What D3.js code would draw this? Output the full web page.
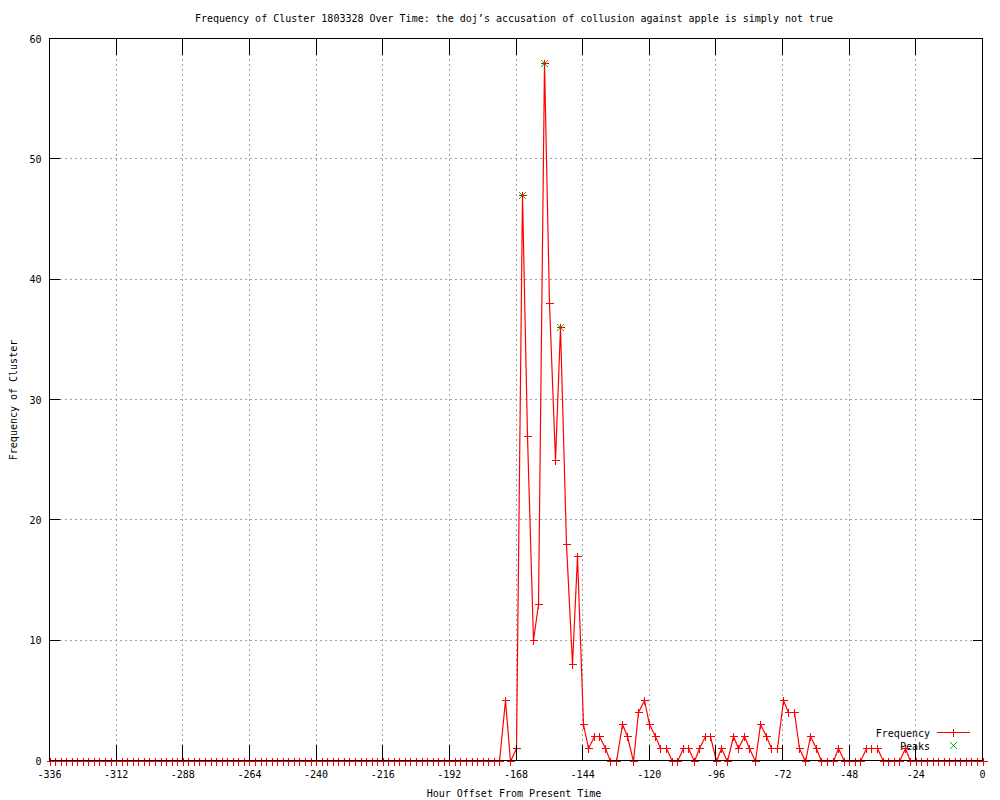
<!DOCTYPE html>
<html>
<head>
<meta charset="utf-8">
<script src="https://cdn.jsdelivr.net/npm/d3@7"></script>
<style>
  body { margin: 0; background: #fff; }
  text { font-family: "DejaVu Sans Mono", "Liberation Mono", monospace; font-size: 10px; fill: #000; }
</style>
</head>
<body>
<svg width="1000" height="800"></svg>
<script>
// hour offsets, one sample every 2 hours
let hours = d3.range(-336, 1, 2);
// frequency per sample, -336 .. 0
let freq = [
  0,0,0,0,0,0,0,0,0,0, 0,0,0,0,0,0,0,0,0,0,
  0,0,0,0,0,0,0,0,0,0, 0,0,0,0,0,0,0,0,0,0,
  0,0,0,0,0,0,0,0,0,0, 0,0,0,0,0,0,0,0,0,0,
  0,0,0,0,0,0,0,0,0,0, 0,0,0,0,0,0,0,0,0,0,
  0,0,
  5,0,1,47,27,10,13,58,38,25,
  36,18,8,17,3,1,2,2,1,0,
  0,3,2,0,4,5,3,2,1,1,
  0,0,1,1,0,1,2,2,0,1,
  0,2,1,2,1,0,3,2,1,1,
  5,4,4,1,0,2,1,0,0,0,
  1,0,0,0,0,1,1,1,0,0,
  0,0,1,0,
  0,0,0,0,0,0,0,0,0,0,0,0,0
];
let peakHours = [-166, -158, -152];
let peakValues = [47, 58, 36];

let xTicks = d3.range(-336, 1, 24);
let yTicks = [0, 10, 20, 30, 40, 50, 60];

let title = "Frequency of Cluster 1803328 Over Time: the doj\u2019s accusation of collusion against apple is simply not true";

let svg = d3.select("svg");
let pLeft = 49.5, pRight = 982.5, pTop = 38.5, pBottom = 760.5;

let x = d3.scaleLinear().domain([-336, 0]).range([pLeft, pRight]);
let y = d3.scaleLinear().domain([0, 60]).range([pBottom, pTop]);

// grid
let grid = svg.append("g").attr("stroke", "#a0a0a0").attr("stroke-dasharray", "2,3").attr("shape-rendering", "crispEdges");
xTicks.slice(1, -1).forEach(function(t){
  grid.append("line").attr("x1", x(t)).attr("x2", x(t)).attr("y1", pTop).attr("y2", pBottom);
});
yTicks.slice(1, -1).forEach(function(t){
  grid.append("line").attr("x1", pLeft).attr("x2", pRight).attr("y1", y(t)).attr("y2", y(t));
});

// series
let pts = hours.map(function(h, i){ return [h, freq[i]]; });
let line = d3.line().x(function(d){ return Math.round(x(d[0])) + 0.5; }).y(function(d){ return Math.round(y(d[1])) + 0.5; });
svg.append("path").datum(pts)
  .attr("d", line).attr("fill", "none").attr("stroke", "red").attr("stroke-width", 1.2);

let plus = function(g, cx, cy, s){
  g.append("line").attr("x1", cx - s).attr("x2", cx + s).attr("y1", cy).attr("y2", cy);
  g.append("line").attr("x1", cx).attr("x2", cx).attr("y1", cy - s).attr("y2", cy + s);
};
let cross = function(g, cx, cy, s){
  g.append("line").attr("x1", cx - s).attr("x2", cx + s).attr("y1", cy - s).attr("y2", cy + s);
  g.append("line").attr("x1", cx - s).attr("x2", cx + s).attr("y1", cy + s).attr("y2", cy - s);
};

let pk = svg.append("g").attr("stroke", "#00c000").attr("stroke-width", 1).attr("shape-rendering", "crispEdges");
peakHours.forEach(function(h, i){ cross(pk, Math.round(x(h)) + 0.5, Math.round(y(peakValues[i])) + 0.5, 3.5); });

let marks = svg.append("g").attr("stroke", "red").attr("stroke-width", 1).attr("shape-rendering", "crispEdges");
pts.forEach(function(d){ plus(marks, Math.round(x(d[0])) + 0.5, Math.round(y(d[1])) + 0.5, 4); });

// border and ticks
let border = svg.append("g").attr("stroke", "#000").attr("shape-rendering", "crispEdges");
border.append("rect").attr("x", pLeft).attr("y", pTop).attr("width", pRight - pLeft).attr("height", pBottom - pTop).attr("fill", "none");
xTicks.forEach(function(t){
  border.append("line").attr("x1", x(t)).attr("x2", x(t)).attr("y1", pBottom).attr("y2", pBottom - 16);
  border.append("line").attr("x1", x(t)).attr("x2", x(t)).attr("y1", pTop).attr("y2", pTop + 16);
  svg.append("text").attr("x", x(t)).attr("y", pBottom + 17).attr("text-anchor", "middle").text(t);
});
yTicks.forEach(function(t){
  border.append("line").attr("x1", pLeft).attr("x2", pLeft + 10).attr("y1", y(t)).attr("y2", y(t));
  border.append("line").attr("x1", pRight).attr("x2", pRight - 10).attr("y1", y(t)).attr("y2", y(t));
  svg.append("text").attr("x", pLeft - 8).attr("y", y(t) + 4).attr("text-anchor", "end").text(t);
});

// titles
svg.append("text").attr("x", 514).attr("y", 22).attr("text-anchor", "middle").text(title);
svg.append("text").attr("x", 514).attr("y", 797).attr("text-anchor", "middle").text("Hour Offset From Present Time");
svg.append("text").attr("transform", "translate(17,400) rotate(-90)").attr("text-anchor", "middle").text("Frequency of Cluster");

// legend
let lg = svg.append("g");
lg.append("text").attr("x", 930).attr("y", 737).attr("text-anchor", "end").text("Frequency");
lg.append("text").attr("x", 930).attr("y", 750).attr("text-anchor", "end").text("Peaks");
let lgl = lg.append("g").attr("stroke", "red").attr("shape-rendering", "crispEdges");
lgl.append("line").attr("x1", 937).attr("x2", 970).attr("y1", 732.5).attr("y2", 732.5);
plus(lgl, 953.5, 732.5, 4);
let lgp = lg.append("g").attr("stroke", "#00c000").attr("shape-rendering", "crispEdges");
cross(lgp, 953.5, 745.5, 3.5);
</script>
</body>
</html>
